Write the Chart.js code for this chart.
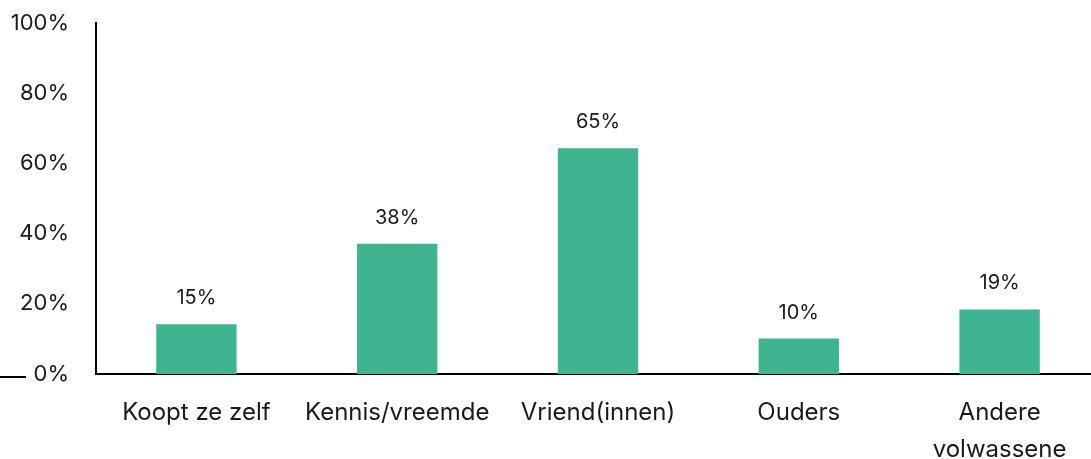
<!DOCTYPE html>
<html>
<head>
<meta charset="utf-8">
<script src="https://cdn.jsdelivr.net/npm/chart.js@4"></script>
<style>
html,body{margin:0;padding:0;background:#fff;overflow:hidden;}
#wrap{position:relative;width:1100px;height:459px;}
</style>
</head>
<body>
<div id="wrap"><canvas id="c"></canvas></div>
<script>
const categories = ["Koopt ze zelf", "Kennis/vreemde", "Vriend(innen)", "Ouders", ["Andere", "volwassene"]];
const values = [14.2, 37.1, 64.3, 10.1, 18.4];
const valueLabels = ["15%", "38%", "65%", "10%", "19%"];
const yTicks = [0, 20, 40, 60, 80, 100];

const FONT = "Inter, 'Open Sans', sans-serif";

const labelPlugin = {
  id: 'barLabels',
  afterDatasetsDraw(chart) {
    const ctx = chart.ctx;
    const meta = chart.getDatasetMeta(0);
    ctx.save();
    ctx.fillStyle = '#1a1a1a';
    ctx.font = '20px ' + FONT;
    ctx.textAlign = 'center';
    ctx.textBaseline = 'middle';
    meta.data.forEach((bar, i) => {
      ctx.fillText(valueLabels[i], bar.x, bar.y - 26);
    });
    // stray dash left of the 0% tick
    const y0 = chart.scales.y.getPixelForValue(0);
    ctx.strokeStyle = '#000';
    ctx.lineWidth = 2;
    ctx.beginPath();
    ctx.moveTo(0, y0 + 3);
    ctx.lineTo(26, y0 + 3);
    ctx.stroke();
    ctx.restore();
  }
};

new Chart(document.getElementById('c'), {
  type: 'bar',
  data: {
    labels: categories,
    datasets: [{
      data: values,
      backgroundColor: '#3EB490',
      barPercentage: 0.4,
      categoryPercentage: 1.0
    }]
  },
  options: {
    responsive: true,
    maintainAspectRatio: false,
    animation: false,
    layout: { padding: { top: 23, right: 0, left: 0, bottom: 0 } },
    plugins: { legend: { display: false }, tooltip: { enabled: false } },
    scales: {
      x: {
        grid: { display: false, drawTicks: false },
        border: { display: true, color: '#000', width: 2 },
        ticks: { color: '#1a1a1a', font: { family: FONT, size: 24, lineHeight: 1.55 }, padding: 20, maxRotation: 0, autoSkip: false },
        afterFit(s) { s.height = 85; s.paddingLeft = 0; s.paddingRight = 0; }
      },
      y: {
        min: 0, max: 100,
        afterBuildTicks(s) { s.ticks = yTicks.map(v => ({ value: v })); },
        grid: { display: false, drawTicks: false },
        border: { display: true, color: '#000', width: 2 },
        ticks: { color: '#1a1a1a', font: { family: FONT, size: 22 }, padding: 27, callback: v => v + '%' },
        afterFit(s) { s.width = 96; s.paddingTop = 0; s.paddingBottom = 0; }
      }
    }
  },
  plugins: [labelPlugin]
});
</script>
</body>
</html>
